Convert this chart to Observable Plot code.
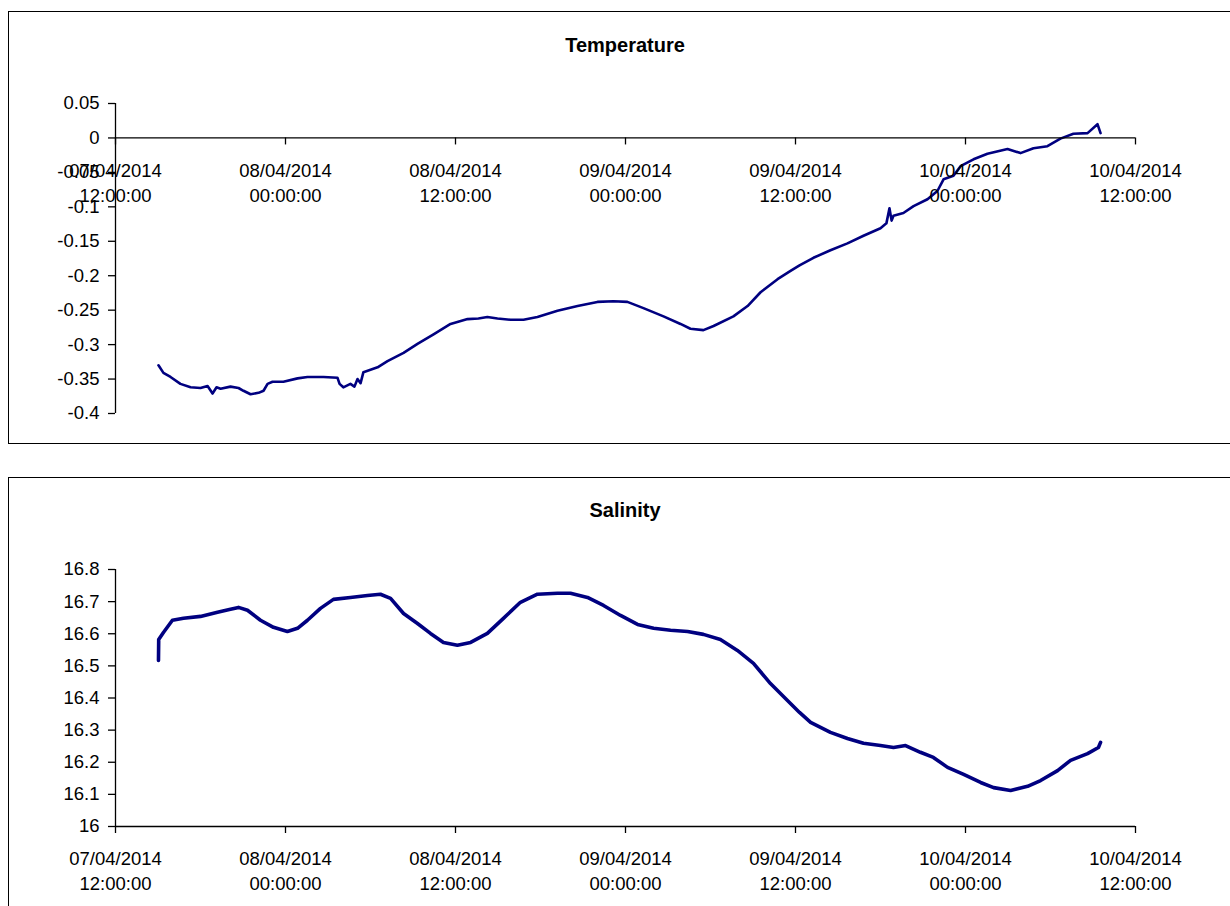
<!DOCTYPE html>
<html><head><meta charset="utf-8">
<script src="https://cdn.jsdelivr.net/npm/d3@7"></script>
<script src="https://cdn.jsdelivr.net/npm/@observablehq/plot@0.6"></script>
<style>
body{margin:0;background:#fff;font-family:"Liberation Sans",Arial,sans-serif;}
#page{position:relative;width:1230px;height:906px;overflow:hidden;background:#fff;}
.box{position:absolute;border:1.5px solid #000;box-sizing:border-box;}
.title{position:absolute;left:115px;width:1020px;text-align:center;font-weight:bold;font-size:20px;line-height:22px;color:#000;}
.plot{position:absolute;left:0;}
</style></head><body><div id="page"></div>
<script>
// ---- data ----
const xTickTimes = ["2014-04-07T12:00","2014-04-08T00:00","2014-04-08T12:00","2014-04-09T00:00","2014-04-09T12:00","2014-04-10T00:00","2014-04-10T12:00"];
const xTickLabels = ["07/04/2014\n12:00:00","08/04/2014\n00:00:00","08/04/2014\n12:00:00","09/04/2014\n00:00:00","09/04/2014\n12:00:00","10/04/2014\n00:00:00","10/04/2014\n12:00:00"];

const tempTicks = [0.05, 0, -0.05, -0.1, -0.15, -0.2, -0.25, -0.3, -0.35, -0.4];
const salTicks = [16.8, 16.7, 16.6, 16.5, 16.4, 16.3, 16.2, 16.1, 16];

const tempTime = ["2014-04-07T15:02","2014-04-07T15:23","2014-04-07T15:53","2014-04-07T16:35","2014-04-07T17:18","2014-04-07T18:00","2014-04-07T18:30","2014-04-07T18:51","2014-04-07T19:08","2014-04-07T19:25","2014-04-07T20:07","2014-04-07T20:41","2014-04-07T21:02","2014-04-07T21:32","2014-04-07T22:06","2014-04-07T22:27","2014-04-07T22:44","2014-04-07T23:05","2014-04-07T23:51",
"2014-04-08T00:51","2014-04-08T01:33","2014-04-08T02:41","2014-04-08T03:40","2014-04-08T03:49","2014-04-08T04:05","2014-04-08T04:35","2014-04-08T04:52","2014-04-08T05:05","2014-04-08T05:18","2014-04-08T05:30","2014-04-08T06:30","2014-04-08T07:12","2014-04-08T08:20","2014-04-08T09:19","2014-04-08T10:27","2014-04-08T11:39","2014-04-08T12:51","2014-04-08T13:37","2014-04-08T14:15","2014-04-08T14:58","2014-04-08T15:53","2014-04-08T16:48","2014-04-08T17:47","2014-04-08T19:12","2014-04-08T20:37","2014-04-08T22:01","2014-04-08T23:09",
"2014-04-09T00:08","2014-04-09T01:16","2014-04-09T02:41","2014-04-09T03:53","2014-04-09T04:35","2014-04-09T05:30","2014-04-09T06:13","2014-04-09T07:37","2014-04-09T08:37","2014-04-09T09:32","2014-04-09T10:44","2014-04-09T11:39","2014-04-09T12:17","2014-04-09T13:16","2014-04-09T14:28","2014-04-09T15:40","2014-04-09T16:48","2014-04-09T18:00","2014-04-09T18:25","2014-04-09T18:38","2014-04-09T18:47","2014-04-09T18:55","2014-04-09T19:37","2014-04-09T20:20","2014-04-09T21:19","2014-04-09T22:01","2014-04-09T22:27","2014-04-09T23:09","2014-04-09T23:39",
"2014-04-10T00:34","2014-04-10T01:33","2014-04-10T02:58","2014-04-10T03:53","2014-04-10T04:48","2014-04-10T05:47","2014-04-10T06:42","2014-04-10T07:37","2014-04-10T08:37","2014-04-10T09:19","2014-04-10T09:32"];
const tempValue = [-0.330,-0.341,-0.347,-0.357,-0.362,-0.363,-0.360,-0.371,-0.362,-0.364,-0.361,-0.363,-0.367,-0.372,-0.370,-0.367,-0.357,-0.354,-0.354,
-0.349,-0.347,-0.347,-0.348,-0.357,-0.362,-0.357,-0.361,-0.350,-0.356,-0.340,-0.333,-0.324,-0.312,-0.299,-0.285,-0.270,-0.263,-0.262,-0.260,-0.262,-0.264,-0.264,-0.260,-0.251,-0.244,-0.238,-0.237,
-0.238,-0.247,-0.259,-0.270,-0.277,-0.279,-0.273,-0.259,-0.244,-0.224,-0.205,-0.193,-0.185,-0.174,-0.163,-0.153,-0.142,-0.131,-0.124,-0.102,-0.120,-0.113,-0.109,-0.099,-0.089,-0.077,-0.060,-0.055,-0.041,
-0.031,-0.023,-0.016,-0.022,-0.015,-0.012,-0.001,0.006,0.007,0.020,0.007];

const salTime = ["2014-04-07T15:02","2014-04-07T15:03","2014-04-07T15:23","2014-04-07T16:01","2014-04-07T16:48","2014-04-07T18:00","2014-04-07T19:12","2014-04-07T20:07","2014-04-07T20:41","2014-04-07T21:19","2014-04-07T22:14","2014-04-07T23:09",
"2014-04-08T00:08","2014-04-08T00:51","2014-04-08T01:33","2014-04-08T02:28","2014-04-08T03:23","2014-04-08T04:35","2014-04-08T05:47","2014-04-08T06:42","2014-04-08T07:25","2014-04-08T08:20","2014-04-08T09:19","2014-04-08T10:14","2014-04-08T11:09","2014-04-08T12:08","2014-04-08T13:04","2014-04-08T14:15","2014-04-08T15:23","2014-04-08T16:35","2014-04-08T17:47","2014-04-08T19:12","2014-04-08T20:07","2014-04-08T21:19","2014-04-08T22:27","2014-04-08T23:39",
"2014-04-09T00:51","2014-04-09T01:59","2014-04-09T03:11","2014-04-09T04:23","2014-04-09T05:30","2014-04-09T06:42","2014-04-09T07:54","2014-04-09T09:02","2014-04-09T10:14","2014-04-09T11:26","2014-04-09T12:17","2014-04-09T13:04","2014-04-09T14:28","2014-04-09T15:40","2014-04-09T16:48","2014-04-09T18:00","2014-04-09T18:55","2014-04-09T19:46","2014-04-09T20:49","2014-04-09T21:44","2014-04-09T22:44","2014-04-09T23:52",
"2014-04-10T01:04","2014-04-10T01:59","2014-04-10T03:11","2014-04-10T04:23","2014-04-10T05:18","2014-04-10T06:30","2014-04-10T07:25","2014-04-10T08:37","2014-04-10T09:23","2014-04-10T09:32"];
const salValue = [16.517,16.582,16.604,16.642,16.648,16.654,16.667,16.676,16.682,16.673,16.642,16.620,
16.607,16.617,16.642,16.679,16.707,16.713,16.719,16.723,16.710,16.663,16.632,16.601,16.573,16.564,16.573,16.601,16.648,16.698,16.723,16.726,16.726,16.713,16.688,16.657,
16.629,16.617,16.611,16.607,16.598,16.582,16.548,16.508,16.445,16.392,16.355,16.324,16.293,16.274,16.259,16.252,16.246,16.252,16.231,16.215,16.184,16.162,
16.137,16.121,16.112,16.125,16.143,16.174,16.206,16.227,16.246,16.262];

// ---- build ----
const parse = d3.utcParse("%Y-%m-%dT%H:%M");
const xDomain = [parse(xTickTimes[0]), parse(xTickTimes[xTickTimes.length - 1])];
const tickRows = xTickTimes.map((t, i) => ({t: parse(t), label: xTickLabels[i]}));
const FONT = '"Liberation Sans", Arial, sans-serif';
const page = document.getElementById("page");

function addBox(left, top, w, h) {
  const d = document.createElement("div");
  d.className = "box";
  Object.assign(d.style, {left: left + "px", top: top + "px", width: w + "px", height: h + "px"});
  page.appendChild(d);
}
function addTitle(text, top) {
  const d = document.createElement("div");
  d.className = "title";
  d.style.top = top + "px";
  d.textContent = text;
  page.appendChild(d);
}
function panel({times, values, yTicks, base, top, height, marginTop, marginBottom, strokeWidth}) {
  const data = times.map((t, i) => ({t: parse(t), v: values[i]}));
  const yDomain = d3.extent(yTicks);
  const frameH = height - marginTop - marginBottom;
  const tickLen = (yDomain[1] - yDomain[0]) * 7 / frameH;
  const chart = Plot.plot({
    width: 1230, height, marginLeft: 115, marginRight: 95, marginTop, marginBottom,
    style: {fontFamily: FONT, fontSize: "18.5px", color: "#000", background: "transparent", overflow: "visible"},
    x: {type: "utc", domain: xDomain, axis: null},
    y: {domain: yDomain, label: null},
    marks: [
      Plot.axisY(yTicks, {label: null, tickSize: 7, tickPadding: 9, tickFormat: d => String(d), fontSize: 18.5, stroke: "#000", strokeWidth: 1.3, fill: "#000"}),
      Plot.ruleX([xDomain[0]], {y1: yDomain[0], y2: yDomain[1], stroke: "#000", strokeWidth: 1.3}),
      Plot.line(data, {x: "t", y: "v", stroke: "#000080", strokeWidth, strokeLinejoin: "round"}),
      Plot.ruleY([base], {stroke: "#000", strokeWidth: 1.3}),
      Plot.ruleX(tickRows, {x: "t", y1: base, y2: base - tickLen, stroke: "#000", strokeWidth: 1.3}),
      Plot.text(tickRows, {x: "t", y: base, text: "label", dy: 21, lineAnchor: "top", lineHeight: 1.35, fontSize: 18.5, fill: "#000"})
    ]
  });
  chart.classList.add("plot");
  chart.style.top = top + "px";
  page.appendChild(chart);
}

addBox(8, 11, 1240, 433);
addBox(8, 477, 1240, 450);
addTitle("Temperature", 34);
addTitle("Salinity", 499);

panel({times: tempTime, values: tempValue, yTicks: tempTicks, base: 0, top: 0, height: 450, marginTop: 103, marginBottom: 37, strokeWidth: 2.6});
panel({times: salTime, values: salValue, yTicks: salTicks, base: 16, top: 460, height: 446, marginTop: 109, marginBottom: 80, strokeWidth: 3.6});
</script></body></html>
